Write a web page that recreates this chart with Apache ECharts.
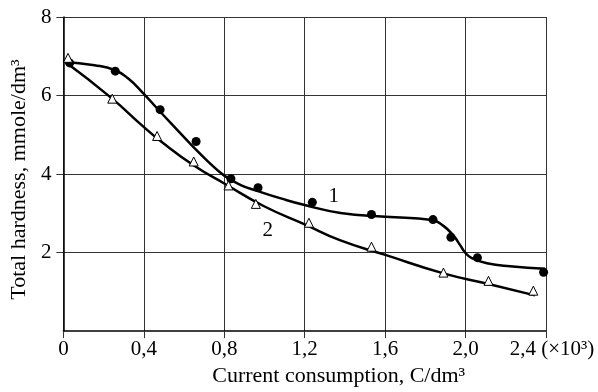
<!DOCTYPE html>
<html>
<head>
<meta charset="utf-8">
<script src="https://cdn.jsdelivr.net/npm/echarts@6/dist/echarts.min.js"></script>
<style>
  html, body { margin: 0; padding: 0; background: #fff; }
  #main { width: 598px; height: 392px; }
</style>
</head>
<body>
<div id="main"></div>
<script>
// tick labels (comma decimals as in the original)
const xTickLabels = ['0', '0,4', '0,8', '1,2', '1,6', '2,0', '2,4'];
const yTickLabels = ['', '2', '4', '6', '8'];
const yTickValues = [2, 4, 6, 8];

// measured points, curve 1 (filled circles)
const points1 = [
  [0.031, 6.83], [0.258, 6.62], [0.481, 5.64], [0.660, 4.83], [0.833, 3.88],
  [0.968, 3.65], [1.238, 3.28], [1.532, 2.97], [1.838, 2.84], [1.927, 2.39],
  [2.059, 1.87], [2.388, 1.50]
];
// measured points, curve 2 (open triangles)
const points2 = [
  [0.023, 6.96], [0.243, 5.92], [0.466, 4.97], [0.648, 4.32], [0.821, 3.71],
  [0.957, 3.24], [1.221, 2.76], [1.532, 2.15], [1.890, 1.49], [2.114, 1.28],
  [2.337, 1.03]
];

// fitted curves
const curve1 = [
  [0, 6.86], [0.155, 6.77], [0.254, 6.65], [0.321, 6.44], [0.395, 6.07],
  [0.470, 5.65], [0.552, 5.20], [0.635, 4.75], [0.717, 4.33], [0.800, 3.96],
  [0.882, 3.72], [0.965, 3.57], [1.081, 3.38], [1.200, 3.21], [1.378, 3.01],
  [1.601, 2.91], [1.833, 2.83], [1.890, 2.68], [1.940, 2.43],
  [1.973, 2.19], [1.998, 2.00], [2.031, 1.86], [2.106, 1.73], [2.221, 1.65],
  [2.395, 1.59]
];
const curve2 = [
  [0, 6.89], [0.238, 5.94], [0.395, 5.22], [0.486, 4.83],
  [0.651, 4.21], [0.800, 3.76], [0.998, 3.18], [1.200, 2.72],
  [1.378, 2.31], [1.601, 1.94], [1.890, 1.47], [2.114, 1.20],
  [2.345, 0.91]
];

// curve numbers
const curveTags = [
  { name: '1', value: [1.344, 3.42] },
  { name: '2', value: [1.016, 2.55] }
];

const font = 'Liberation Serif';
const black = '#000';

var myChart = echarts.init(document.getElementById('main'));

var option = {
  animation: false,
  backgroundColor: '#fff',
  grid: { left: 62, right: 52, top: 17, bottom: 52 },
  xAxis: {
    type: 'value',
    min: 0, max: 2.4, interval: 0.4,
    name: 'Current consumption, C/dm³',
    nameLocation: 'middle',
    nameGap: 25,
    nameTextStyle: { fontFamily: font, fontSize: 22, color: black, padding: [0, 0, 0, 68] },
    axisLine: { onZero: false, lineStyle: { color: black, width: 1.5 } },
    axisTick: { show: true, length: 7, lineStyle: { color: '#333' } },
    axisLabel: {
      margin: 8,
      fontFamily: font, fontSize: 21, color: black,
      formatter: function (v) {
        var i = Math.round(v / 0.4);
        if (i === xTickLabels.length - 1) return '{m|' + xTickLabels[i] + ' (×10³)}';
        return xTickLabels[i];
      },
      rich: { m: { fontFamily: font, fontSize: 21, color: black, padding: [0, 0, 0, 12] } }
    },
    splitLine: { show: true, lineStyle: { color: '#333', width: 1 } }
  },
  yAxis: {
    type: 'value',
    min: 0, max: 8, interval: 2,
    name: 'Total hardness, mmole/dm³',
    nameLocation: 'middle',
    nameGap: 30,
    nameTextStyle: { fontFamily: font, fontSize: 22, color: black, padding: [0, 11, 0, 0] },
    axisLine: { show: true, lineStyle: { color: black, width: 1.5 } },
    axisTick: { show: true, length: 7, customValues: yTickValues, lineStyle: { color: '#333' } },
    axisLabel: {
      margin: 12,
      fontFamily: font, fontSize: 21, color: black,
      formatter: function (v) { return yTickLabels[Math.round(v / 2)]; }
    },
    splitLine: { show: true, lineStyle: { color: '#333', width: 1 } }
  },
  series: [
    {
      type: 'line', data: curve1, smooth: 0.5, showSymbol: false,
      lineStyle: { color: black, width: 2.5 }, z: 3
    },
    {
      type: 'line', data: curve2, smooth: 0.5, showSymbol: false,
      lineStyle: { color: black, width: 2.5 }, z: 3
    },
    {
      type: 'scatter', data: points1, symbol: 'circle', symbolSize: 9,
      itemStyle: { color: black, opacity: 1 }, z: 4
    },
    {
      type: 'scatter', data: points2, symbol: 'triangle', symbolSize: 9,
      itemStyle: { color: '#fff', borderColor: black, borderWidth: 1, opacity: 1 }, z: 4
    },
    {
      type: 'scatter', data: curveTags, symbolSize: 0,
      itemStyle: { opacity: 1 },
      label: {
        show: true, position: 'inside', formatter: '{b}',
        fontFamily: font, fontSize: 21, color: black
      },
      z: 5
    }
  ]
};

myChart.setOption(option);
</script>
</body>
</html>
